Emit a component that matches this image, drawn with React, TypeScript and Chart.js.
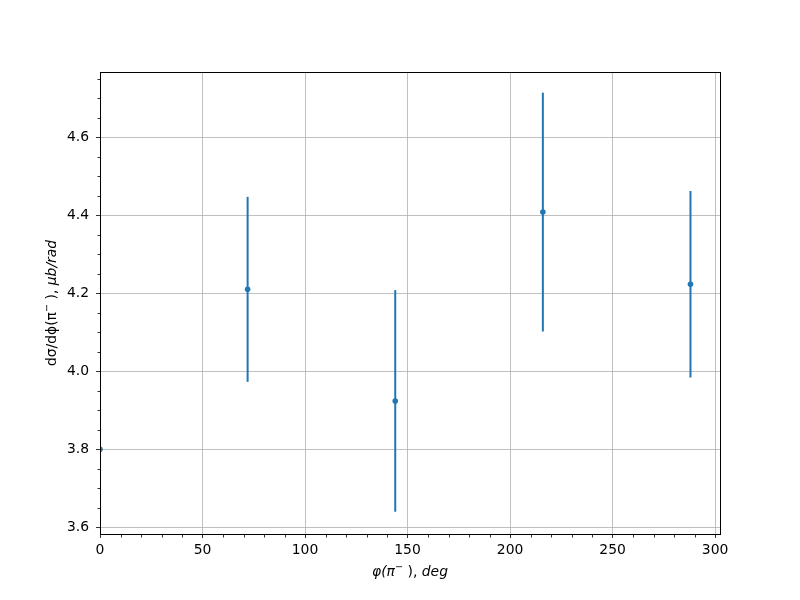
import React, { useEffect, useRef } from "react";
import { Chart, registerables } from "chart.js";

Chart.register(...registerables);

// Data
const phiDeg = [0, 72, 144, 216, 288];
const dSigma = [3.8, 4.21, 3.924, 4.408, 4.223];
const dSigmaErr = [0, 0.237, 0.284, 0.306, 0.239];

const xTicks = [0, 50, 100, 150, 200, 250, 300];
const yTicks = [3.6, 3.8, 4.0, 4.2, 4.4, 4.6];
const xMinorStep = 10;
const yMinorStep = 0.05;

const X_MIN = 0;
const X_MAX = 302.4;
const Y_MIN = 3.583;
const Y_MAX = 4.767;

const BLUE = "#1f77b4";
const FONT = "'DejaVu Sans', sans-serif";
const FS = 13.9;

type Seg = { t: string; italic?: boolean; sup?: boolean };

function drawSegs(ctx: CanvasRenderingContext2D, segs: Seg[], cx: number, cy: number, rot: number) {
  ctx.save();
  ctx.translate(cx, cy);
  ctx.rotate(rot);
  ctx.fillStyle = "#000";
  ctx.textBaseline = "middle";
  ctx.textAlign = "left";
  const fontOf = (s: Seg) => `${s.italic ? "italic " : ""}${s.sup ? FS * 0.7 : FS}px ${FONT}`;
  let total = 0;
  const widths = segs.map((s) => {
    ctx.font = fontOf(s);
    const w = ctx.measureText(s.t).width;
    total += w;
    return w;
  });
  let x = -total / 2;
  segs.forEach((s, i) => {
    ctx.font = fontOf(s);
    ctx.fillText(s.t, x, s.sup ? -5 : 0);
    x += widths[i];
  });
  ctx.restore();
}

const decorPlugin = {
  id: "decor",
  beforeDatasetsDraw(chart: any) {
    const { ctx, chartArea, scales } = chart;
    const xs = scales.x;
    const ys = scales.y;
    ctx.save();
    ctx.beginPath();
    ctx.rect(chartArea.left, chartArea.top, chartArea.right - chartArea.left, chartArea.bottom - chartArea.top);
    ctx.clip();
    ctx.strokeStyle = BLUE;
    ctx.lineWidth = 2;
    phiDeg.forEach((p, i) => {
      const e = dSigmaErr[i];
      if (!e) return;
      const px = xs.getPixelForValue(p);
      ctx.beginPath();
      ctx.moveTo(px, ys.getPixelForValue(dSigma[i] - e));
      ctx.lineTo(px, ys.getPixelForValue(dSigma[i] + e));
      ctx.stroke();
    });
    ctx.restore();
  },
  afterDraw(chart: any) {
    const { ctx, chartArea, scales } = chart;
    const xs = scales.x;
    const ys = scales.y;
    ctx.save();
    // minor ticks
    ctx.strokeStyle = "#000";
    ctx.lineWidth = 0.8;
    ctx.beginPath();
    for (let v = X_MIN; v <= X_MAX + 1e-9; v += xMinorStep) {
      if (xTicks.some((t) => Math.abs(t - v) < 1e-6)) continue;
      const px = Math.round(xs.getPixelForValue(v)) + 0.5;
      ctx.moveTo(px, chartArea.bottom + 1);
      ctx.lineTo(px, chartArea.bottom + 3.5);
    }
    for (let k = Math.ceil(Y_MIN / yMinorStep); k * yMinorStep <= Y_MAX; k++) {
      const v = k * yMinorStep;
      if (yTicks.some((t) => Math.abs(t - v) < 1e-6)) continue;
      const py = Math.round(ys.getPixelForValue(v)) + 0.5;
      ctx.moveTo(chartArea.left, py);
      ctx.lineTo(chartArea.left - 2.5, py);
    }
    ctx.stroke();
    // frame
    ctx.lineWidth = 1;
    ctx.strokeRect(chartArea.left + 0.5, chartArea.top + 0.5, chartArea.right - chartArea.left, chartArea.bottom - chartArea.top);
    ctx.restore();
    // axis titles
    drawSegs(
      ctx,
      [
        { t: "φ(π", italic: true },
        { t: "−", sup: true },
        { t: " ), " },
        { t: "deg", italic: true },
      ],
      (chartArea.left + chartArea.right) / 2,
      572,
      0
    );
    drawSegs(
      ctx,
      [
        { t: "dσ/dϕ(π" },
        { t: "−", sup: true },
        { t: " ), " },
        { t: "μb/rad", italic: true },
      ],
      52,
      (chartArea.top + chartArea.bottom) / 2,
      -Math.PI / 2
    );
  },
};

export default function App() {
  const ref = useRef<HTMLCanvasElement>(null);
  useEffect(() => {
    document.body.style.margin = "0";
    const chart = new Chart(ref.current!, {
      type: "scatter",
      data: {
        datasets: [
          {
            data: phiDeg.map((x, i) => ({ x, y: dSigma[i] })),
            backgroundColor: BLUE,
            borderColor: BLUE,
            pointRadius: 2.8,
            pointBorderWidth: 0,
            pointHoverRadius: 2.8,
            clip: 0,
          } as any,
        ],
      },
      options: {
        responsive: false,
        animation: false,
        events: [],
        layout: { padding: { left: 0, top: 72, right: 80, bottom: 0 } },
        plugins: { legend: { display: false }, tooltip: { enabled: false }, title: { display: false } },
        scales: {
          x: {
            type: "linear",
            min: X_MIN,
            max: X_MAX,
            afterBuildTicks: (s: any) => {
              s.ticks = xTicks.map((v) => ({ value: v }));
            },
            afterFit: (s: any) => {
              s.height = 66;
            },
            grid: { color: "#b0b0b0", lineWidth: 0.8, tickColor: "#000", tickLength: 4, tickWidth: 0.8 },
            border: { display: false },
            ticks: {
              color: "#000",
              font: { family: FONT, size: FS },
              padding: 4,
              maxRotation: 0,
              callback: (v: any) => String(v),
            },
          },
          y: {
            type: "linear",
            min: Y_MIN,
            max: Y_MAX,
            afterBuildTicks: (s: any) => {
              s.ticks = yTicks.map((v) => ({ value: v }));
            },
            afterFit: (s: any) => {
              s.width = 100;
            },
            grid: { color: "#b0b0b0", lineWidth: 0.8, tickColor: "#000", tickLength: 4, tickWidth: 0.8 },
            border: { display: false },
            ticks: {
              color: "#000",
              font: { family: FONT, size: FS },
              padding: 7,
              callback: (v: any) => Number(v).toFixed(1),
            },
          },
        },
      },
      plugins: [decorPlugin],
    });
    return () => chart.destroy();
  }, []);
  return (
    <div style={{ position: "absolute", left: 0, top: 0, width: 800, height: 600 }}>
      <canvas ref={ref} width={800} height={600} style={{ width: 800, height: 600 }} />
    </div>
  );
}
